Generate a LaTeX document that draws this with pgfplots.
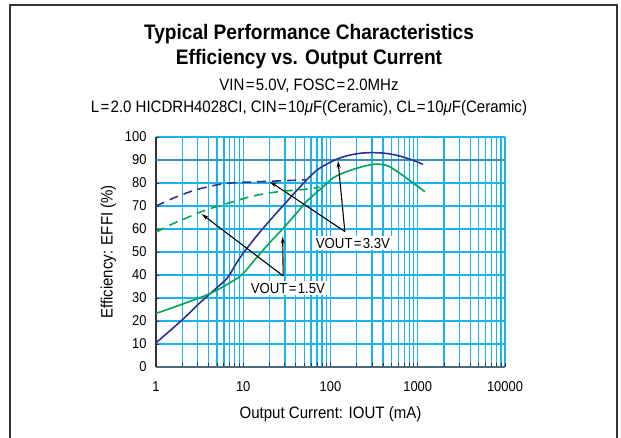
\documentclass[border=0pt]{standalone}
\usepackage{fontspec}
\setmainfont{Liberation Sans}[FakeStretch=0.91]
\usepackage{pgfplots}
\pgfplotsset{compat=1.18}
\usetikzlibrary{arrows.meta}

\definecolor{gridcyan}{HTML}{1AB4EC}
\definecolor{gridninety}{HTML}{3C8DB5}
\definecolor{axisslate}{HTML}{4A6C7A}
\definecolor{framegray}{HTML}{333333}
\definecolor{vblue}{HTML}{2E3192}
\definecolor{vgreen}{HTML}{00A651}

\newcommand{\eq}{\kern1.3pt=\kern1.3pt}

\begin{document}
\begin{tikzpicture}[x=1pt,y=1pt]
\useasboundingbox (-156,-71) rectangle (465,367);
% outer frame, open at the bottom
\draw[line width=2.5pt, framegray] (-146,-71) -- (-146,362) -- (461,362) -- (461,-71);

% titles
\node[anchor=base, font=\bfseries\fontsize{21}{21}\selectfont] at (153,327) {Typical Performance Characteristics};
\node[anchor=base, font=\bfseries\fontsize{21}{21}\selectfont] at (153,302) {Efficiency vs. Output Current};
\node[anchor=base, font=\fontsize{16.5}{16.5}\selectfont] at (153,276) {VIN\eq5.0V, FOSC\eq2.0MHz};
\node[anchor=base, font=\fontsize{16.5}{16.5}\selectfont] at (153,254) {L\eq2.0 HICDRH4028CI, CIN\eq10{\itshape μ}F(Ceramic), CL\eq10{\itshape μ}F(Ceramic)};

\begin{axis}[
    at={(0,0)}, anchor=south west,
    scale only axis,
    width=349pt, height=230pt,
    xmode=log,
    xmin=1, xmax=10000,
    ymin=0, ymax=100,
    ytick={0,10,...,100},
    xtick={1,10,100,1000,10000},
    xticklabels={1,10,100,1000,10000},
    minor xtick={2,3,4,5,6,7,8,9,20,30,40,50,60,70,80,90,200,300,400,500,600,700,800,900,2000,3000,4000,5000,6000,7000,8000,9000},
    /pgf/number format/assume math mode=true,
    ticklabel style={font=\fontsize{14.2}{14.2}\selectfont},
    xticklabel style={yshift=-11pt},
    yticklabel style={xshift=-6pt},
    grid=both,
    major grid style={gridcyan, line width=1.3pt},
    minor grid style={gridcyan, line width=1.3pt},
    axis x line*=bottom,
    axis y line*=left,
    x axis line style={-, axisslate, line width=2pt},
    y axis line style={-, framegray, line width=1.3pt},
    tick align=inside,
    major tick length=3.5pt,
    minor tick length=3.5pt,
    tick style={framegray, line width=0.9pt},
    xlabel={Output Current: IOUT (mA)},
    ylabel={Efficiency: EFFI (\%)},
    label style={font=\fontsize{16.5}{16.5}\selectfont},
    xlabel style={yshift=-8pt},
    ylabel style={yshift=2pt},
    clip=false,
]
% emphasised 90 % line
\draw[gridninety, line width=2pt] (axis cs:1,90) -- (axis cs:10000,90);

% VOUT = 3.3V (solid = with load, dashed = light load)
\addplot[vblue, line width=1.6pt, smooth] coordinates {
    (1,10.5) (2,20.5) (3,27) (4.2,32) (6.5,38.5) (8,44) (10,49.5) (15,58)
    (22,65.3) (30,71) (45,78.4) (70,85.6) (108,89.7) (150,91.7) (217,92.9)
    (310,93.2) (450,92.8) (624,91.7) (850,90.1) (1150,88.1)
};
\addplot[vblue, line width=1.6pt, dash pattern=on 9pt off 6pt, smooth] coordinates {
    (1,70) (1.6,73.5) (2.45,76.2) (3.19,77.5) (5,79.2) (7.7,80.1) (12,80.4)
    (18.5,80.7) (30,81) (53,81.4)
};

% VOUT = 1.5V
\addplot[vgreen, line width=1.6pt, smooth] coordinates {
    (1,23.3) (2,27.3) (4.2,32) (7.7,37.5) (10,40.7) (14.2,47.5) (20,54)
    (28.7,60.3) (40,66.5) (53,71.9) (80,78) (108,82.3) (150,84.8) (217,86.8)
    (323,88.2) (450,87.5) (624,84.2) (850,80.5) (1210,76.2)
};
\addplot[vgreen, line width=1.6pt, dash pattern=on 9pt off 6pt, smooth] coordinates {
    (1,58.6) (1.5,62) (2,64) (3.19,67.3) (5,69.8) (7.7,71.9) (12,74)
    (18.5,75.5) (30,76.5) (53,77.3) (75,78.2)
};

% pointers
\draw[-{Stealth[length=7pt,width=4pt]}, black, line width=1.1pt] (axis cs:146,58.9) -- (axis cs:20.2,80.6);
\draw[-{Stealth[length=7pt,width=4pt]}, black, line width=1.1pt] (axis cs:146,58.9) -- (axis cs:122,89.6);
\draw[-{Stealth[length=7pt,width=4pt]}, black, line width=1.1pt] (axis cs:28.7,39.6) -- (axis cs:3.34,66.5);
\draw[-{Stealth[length=7pt,width=4pt]}, black, line width=1.1pt] (axis cs:28.7,39.6) -- (axis cs:28.3,56.7);

\node[fill=white, inner sep=2pt, font=\fontsize{14.5}{14.5}\selectfont] at (axis cs:181,53.9) {VOUT\eq3.3V};
\node[fill=white, inner sep=2pt, font=\fontsize{14.5}{14.5}\selectfont] at (axis cs:32.5,34.3) {VOUT\eq1.5V};
\end{axis}
\end{tikzpicture}
\end{document}
